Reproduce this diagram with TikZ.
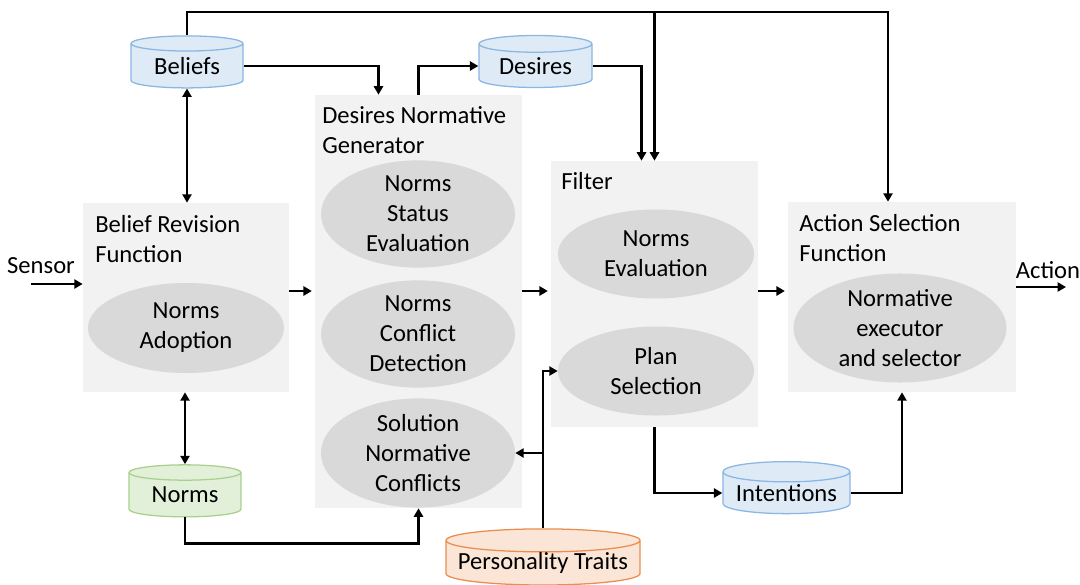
\documentclass[tikz,border=0pt]{standalone}
\usepackage{fontspec}
\setmainfont{Carlito}
\usetikzlibrary{shapes.geometric,arrows.meta}
\definecolor{boxgray}{HTML}{F2F2F2}
\definecolor{ellgray}{HTML}{D9D9D9}
\definecolor{bluefill}{HTML}{DEEBF7}
\definecolor{blueline}{HTML}{8AB6E2}
\definecolor{greenfill}{HTML}{E2F0D9}
\definecolor{greenline}{HTML}{A9D18E}
\definecolor{orangefill}{HTML}{FBE5D6}
\definecolor{orangeline}{HTML}{E98E50}
\begin{document}
\begin{tikzpicture}[x=0.025cm,y=-0.025cm,
  font=\fontsize{17.5}{21.3}\selectfont,
  block/.style={rectangle,fill=boxgray,inner sep=0pt},
  task/.style={ellipse,fill=ellgray,inner sep=0pt,align=center},
  store/.style={cylinder,shape border rotate=90,line width=0.9pt,
    inner sep=0pt,minimum height=1.3cm},
  title/.style={anchor=base west,align=left,inner sep=0pt},
  flow/.style={line width=2.1pt,-{Triangle[length=6pt,width=6.5pt]}},
  both/.style={line width=2.1pt,{Triangle[length=6pt,width=6.5pt]}-{Triangle[length=6pt,width=6.5pt]}}]
  \useasboundingbox (0,0) rectangle (1080,585);

  % Function blocks (grey backgrounds)
  \node[block,minimum width=5.15cm,minimum height=4.725cm] (brf) at (186,297.5) {};
  \node[block,minimum width=5.175cm,minimum height=10.325cm] (dng) at (418.5,301.5) {};
  \node[block,minimum width=5.175cm,minimum height=6.65cm] (filt) at (654.5,294) {};
  \node[block,minimum width=5.7cm,minimum height=4.75cm] (asf) at (902,297) {};

  % Block titles (base = last line)
  \node[title] (brftitle) at (95,262) {Belief Revision\\Function};
  \node[title] (dngtitle) at (322,153) {Desires Normative\\Generator};
  \node[title] (filttitle) at (561,189) {Filter};
  \node[title] (asftitle) at (799,261) {Action Selection\\Function};

  % Normative sub-processes
  \node[task,minimum width=4.9cm,minimum height=2.25cm] (nadopt) at (186,328) {Norms\\Adoption};
  \node[task,minimum width=4.85cm,minimum height=2.2cm] (nstat) at (418,214) {Norms\\Status\\Evaluation};
  \node[task,minimum width=4.85cm,minimum height=2.2cm] (nconf) at (418,334) {Norms\\Conflict\\Detection};
  \node[task,minimum width=4.85cm,minimum height=2.25cm] (nsol) at (418,453) {Solution\\Normative\\Conflicts};
  \node[task,minimum width=4.9cm,minimum height=2.225cm] (neval) at (656,254) {Norms\\Evaluation};
  \node[task,minimum width=4.9cm,minimum height=2.225cm] (plansel) at (656,371) {Plan\\Selection};
  \node[task,minimum width=5.325cm,minimum height=2.475cm] (nexec) at (900,328) {Normative\\executor\\and selector};

  % Data stores
  \node[store,aspect=0.23,draw=blueline,fill=bluefill,minimum width=2.8cm] (beliefs) at (187,66) {Beliefs};
  \node[store,aspect=0.23,draw=blueline,fill=bluefill,minimum width=2.825cm] (desires) at (535.5,66) {Desires};
  \node[store,aspect=0.23,draw=greenline,fill=greenfill,minimum width=2.8cm] (norms) at (185,495) {Norms};
  \node[store,aspect=0.2,draw=blueline,fill=bluefill,minimum width=3.175cm] (intentions) at (786.5,493) {Intentions};
  \node[store,aspect=0.135,draw=orangeline,fill=orangefill,minimum width=4.85cm] (traits) at (543,563) {Personality Traits};

  % Input and output
  \node (sensor) at (41,266) {Sensor};
  \node (action) at (1048,270) {Action};
  \coordinate (sensin) at (31,284);
  \coordinate (actout) at (1066,287);
  \coordinate (mid) at (0,291);
  \coordinate (topR) at (888,12);

  % Main flow
  \draw[flow] (sensin) -- (brf.west |- sensin);
  \draw[flow] (brf.east |- mid) -- ([xshift=-2pt]dng.west |- mid);
  \draw[flow] (dng.east |- mid) -- ([xshift=-2pt]filt.west |- mid);
  \draw[flow] (filt.east |- mid) -- ([xshift=-2pt]asf.west |- mid);
  \draw[flow] (asf.east |- actout) -- (actout);

  % Beliefs feed everything
  \draw[flow] (beliefs.north) |- (topR) -- (topR |- asf.north);
  \draw[flow] (topR -| filt.north) -- (filt.north);
  \draw[both] (beliefs.south) -- (brf.north -| beliefs.south);
  \draw[flow] (beliefs.east) -| ([xshift=-1cm]dng.north);

  % Desires
  \draw[flow] (dng.north) |- (desires.west);
  \draw[flow] (desires.east) -| ([xshift=-0.325cm]filt.north);

  % Norms
  \draw[both] (brf.south -| norms.north) -- (norms.north);
  \draw[flow] (norms.south) -- ++(0,26) -| (dng.south);

  % Personality traits
  \draw[flow] (traits.north) |- (plansel.west);
  \draw[flow] (traits.north |- nsol.east) -- (nsol.east);

  % Intentions
  \draw[flow] (filt.south) |- (intentions.west);
  \draw[flow] (intentions.east) -| (asf.south);
\end{tikzpicture}
\end{document}
